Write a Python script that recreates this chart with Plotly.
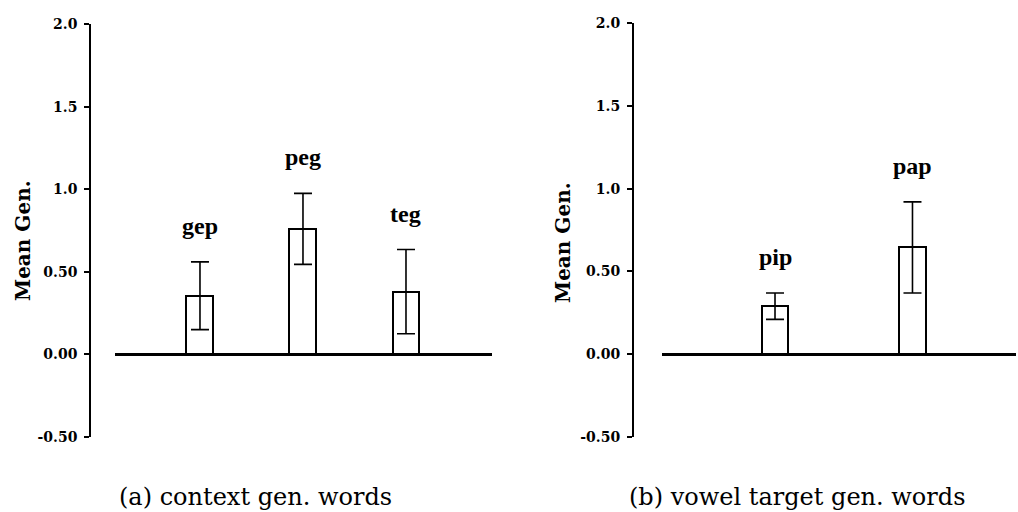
import plotly.graph_objects as go

# Panel (a): context generalisation words
words_a = ["gep", "peg", "teg"]
means_a = [0.355, 0.76, 0.38]
errs_a = [0.205, 0.215, 0.255]

# Panel (b): vowel target generalisation words
words_b = ["pip", "pap"]
means_b = [0.29, 0.645]
errs_b = [0.08, 0.275]

tick_vals = [-0.5, 0.0, 0.5, 1.0, 1.5, 2.0]
tick_text = ["-0.50", "0.00", "0.50", "1.0", "1.5", "2.0"]

captions = ["(a) context gen. words", "(b) vowel target gen. words"]
y_title = "Mean Gen."

W, H = 1018, 512

fig = go.Figure()

bar_style = dict(marker=dict(color="white", line=dict(color="black", width=2)),
                 showlegend=False, hoverinfo="skip")

fig.add_trace(go.Bar(x=words_a, y=means_a, width=0.262,
                     error_y=dict(type="data", array=errs_a, color="black",
                                  thickness=1.6, width=9),
                     xaxis="x", yaxis="y", **bar_style))
fig.add_trace(go.Bar(x=words_b, y=means_b, width=0.196,
                     error_y=dict(type="data", array=errs_b, color="black",
                                  thickness=1.6, width=9),
                     xaxis="x2", yaxis="y2", **bar_style))

yaxis_common = dict(
    range=[-0.5, 2.0], tickvals=tick_vals, ticktext=tick_text,
    showgrid=False, showline=True, linecolor="black", linewidth=1.5,
    ticks="outside", ticklen=5, tickwidth=1.5, tickcolor="black",
    tickfont=dict(family="DejaVu Serif", size=14, color="black", weight="bold"),
    zeroline=True, zerolinecolor="black", zerolinewidth=2.5,
    anchor="free", side="left", ticklabelstandoff=4, automargin=False,
)
xaxis_common = dict(showgrid=False, showline=False, showticklabels=False,
                    ticks="", zeroline=False, type="category", automargin=False)

fig.update_layout(
    width=W, height=H,
    margin=dict(l=0, r=0, t=0, b=0, autoexpand=False),
    paper_bgcolor="white", plot_bgcolor="white",
    bargap=0,
    xaxis=dict(domain=[115 / W, 492 / W], range=[-0.825, 2.835],
               anchor="y", **xaxis_common),
    xaxis2=dict(domain=[662 / W, 1016 / W], range=[-0.822, 1.753],
                anchor="y2", **xaxis_common),
    yaxis=dict(domain=[(H - 437) / H, (H - 24) / H], position=90 / W,
               **yaxis_common),
    yaxis2=dict(domain=[(H - 437) / H, (H - 23) / H], position=632.7 / W,
                **yaxis_common),
)

label_font = dict(family="Liberation Serif", size=24, color="black", weight="bold")
for w, m, e in zip(words_a, means_a, errs_a):
    fig.add_annotation(x=w, y=m + e, xref="x", yref="y", text=w, showarrow=False,
                       yshift=36, font=label_font, yanchor="middle")
for w, m, e in zip(words_b, means_b, errs_b):
    fig.add_annotation(x=w, y=m + e, xref="x2", yref="y2", text=w, showarrow=False,
                       yshift=36, font=label_font, yanchor="middle")

title_font = dict(family="DejaVu Serif", size=20, color="black", weight="bold")
for xp, yp in [(23 / W, 1 - 241 / H), (563 / W, 1 - 243 / H)]:
    fig.add_annotation(x=xp, y=yp, xref="paper", yref="paper", text=y_title,
                       textangle=-90, showarrow=False, font=title_font,
                       xanchor="center", yanchor="middle")

cap_font = dict(family="DejaVu Serif", size=24, color="black")
for xp, cap in zip([256 / W, 797 / W], captions):
    fig.add_annotation(x=xp, y=1 - 497 / H, xref="paper", yref="paper", text=cap,
                       showarrow=False, font=cap_font, xanchor="center",
                       yanchor="middle")

fig.write_html("out.html")
